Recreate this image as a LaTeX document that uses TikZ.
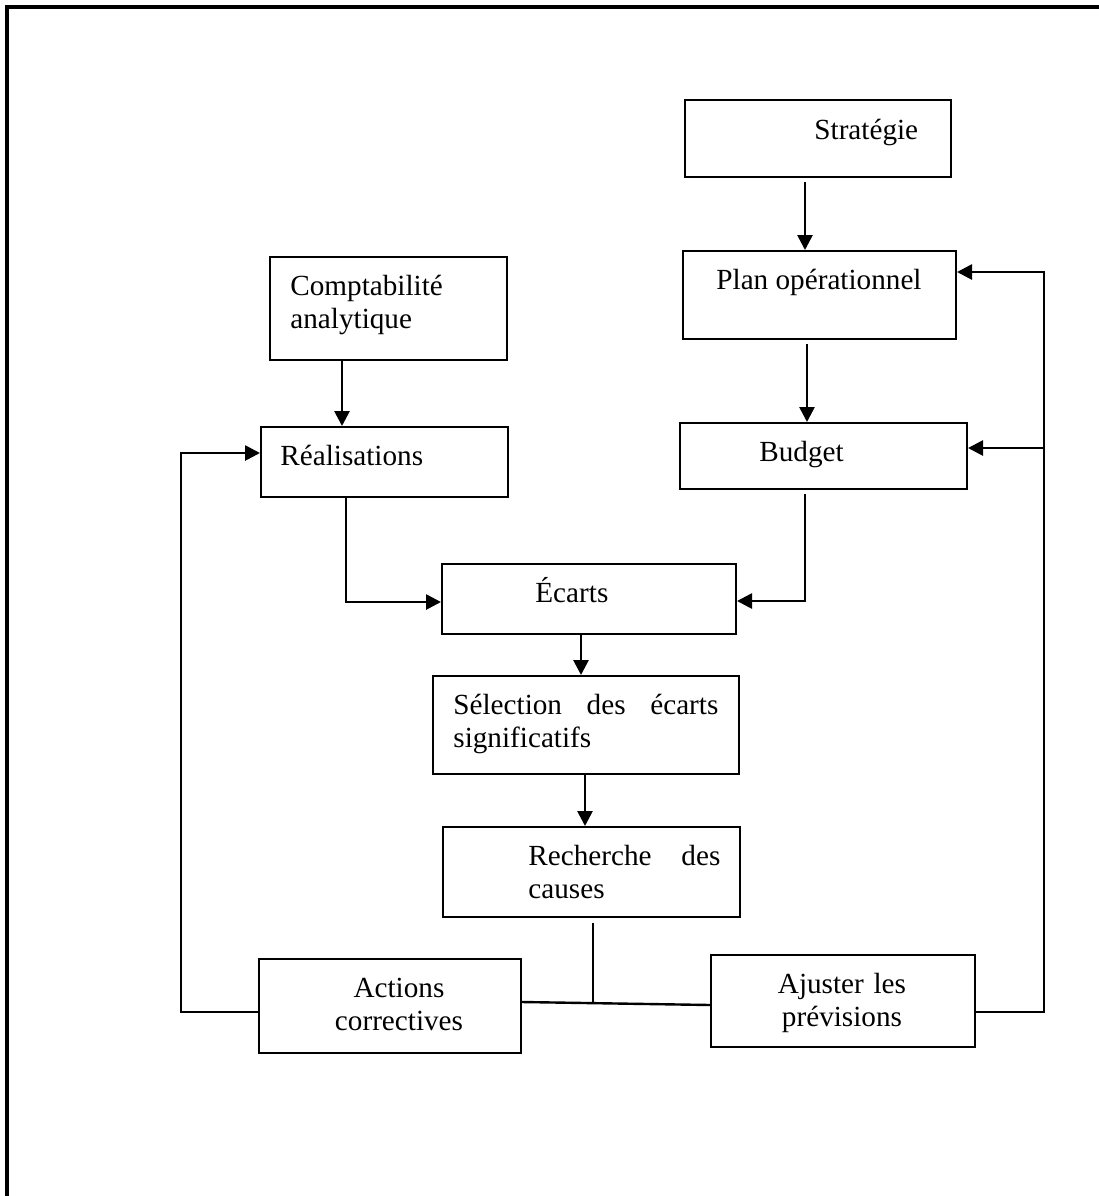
\documentclass[tikz,border=0pt]{standalone}
\usepackage{fontspec}
\setmainfont{Liberation Serif}
\usetikzlibrary{fit, arrows.meta}

\tikzset{
  box/.style={draw, rectangle, line width=1pt, inner sep=0pt},
  txt/.style={inner sep=0pt, font=\fontsize{14.6}{16.5}\selectfont},
  arr/.style={line width=1.35pt, -{Triangle[length=7.5pt, width=7.5pt]}},
  lien/.style={line width=1.2pt},
  fin/.style={line width=0.7pt}
}

\begin{document}
\begin{tikzpicture}[x=0.5pt, y=-0.5pt]
      \useasboundingbox (0,0) rectangle (1099,1196);
      \draw[line width=1.6pt] (7,1196) -- (7,7) -- (1099,7);

      \node[box, fit={(685,100) (951,177)}] (strat) {};
      \node[box, fit={(683,251) (956,339)}] (plan) {};
      \node[box, fit={(270,257) (507,360)}] (compta) {};
      \node[box, fit={(261,427) (508,497)}] (real) {};
      \node[box, fit={(680,423) (967,489)}] (budget) {};
      \node[box, fit={(442,564) (736,634)}] (ecarts) {};
      \node[box, fit={(433,676) (739,774)}] (selec) {};
      \node[box, fit={(443,827) (740,917)}] (rech) {};
      \node[box, fit={(259,959) (521,1053)}] (actions) {};
      \node[box, fit={(711,955) (975,1047)}] (ajust) {};

      \node[txt, anchor=base west] (strat-t) at (814,139) {Stratégie};
      \node[txt, anchor=base west] (plan-t) at (716,289) {Plan opérationnel};
      \node[txt, anchor=base west, text width=100pt, align=left] (compta-t) at (290,295) {Comptabilité\\analytique};
      \node[txt, anchor=base west] (real-t) at (280,465) {Réalisations};
      \node[txt, anchor=base west] (budget-t) at (759,461) {Budget};
      \node[txt, anchor=base west] (ecarts-t) at (535,602) {Écarts};
      \node[txt, anchor=base west, text width=132.5pt, align=left] (selec-t) at (453,714) {Sélection\hfill des\hfill écarts\\significatifs};
      \node[txt, anchor=base west, text width=96pt, align=left] (rech-t) at (528,865) {Recherche\hfill des\\causes};
      \node[txt, anchor=base, text width=70pt, align=center] (actions-t) at (399,997) {Actions\\correctives};
      \node[txt, anchor=base, text width=80pt, align=center] (ajust-t) at (842,993) {Ajuster les\\prévisions};

      \coordinate (loopL) at (181,700);
      \coordinate (loopR) at (1044,600);
      \coordinate (junc) at (593,1003);

      \path ([xshift=-6.5pt, yshift=-2pt]strat.south) edge[arr] ([xshift=-6.5pt]strat.south |- plan.north);
      \path ([xshift=-6.25pt, yshift=-2pt]plan.south) edge[arr] ([xshift=-6.25pt]plan.south |- budget.north);
      \path ([xshift=-23.25pt]compta.south) edge[arr] ([xshift=-23.25pt]compta.south |- real.north);
      \path ([xshift=-4pt]ecarts.south) edge[arr] ([xshift=-4pt]ecarts.south |- selec.north);
      \path ([xshift=-0.5pt]selec.south) edge[arr] ([xshift=-0.5pt]selec.south |- rech.north);

      \draw[arr] ([xshift=-19.25pt]real.south) |- ([yshift=-1.5pt]ecarts.west);
      \draw[arr] ([xshift=-9.25pt, yshift=-2pt]budget.south) |- ([yshift=-1pt]ecarts.east);

      \draw[fin] ([yshift=-2.5pt]rech.south -| junc) -- (junc);
      \draw[lien] ([yshift=2pt]actions.east) -- ([yshift=-2pt]ajust.west);

      \draw[arr] ([yshift=-3pt]actions.west) -| (loopL) |- ([yshift=4.5pt]real.west);
      \draw[arr] ([yshift=-5.5pt]ajust.east) -| (loopR) |- ([yshift=11.5pt]plan.east);
      \draw[arr] ([yshift=4pt]budget.east -| loopR) -- ([yshift=4pt]budget.east);
\end{tikzpicture}
\end{document}
